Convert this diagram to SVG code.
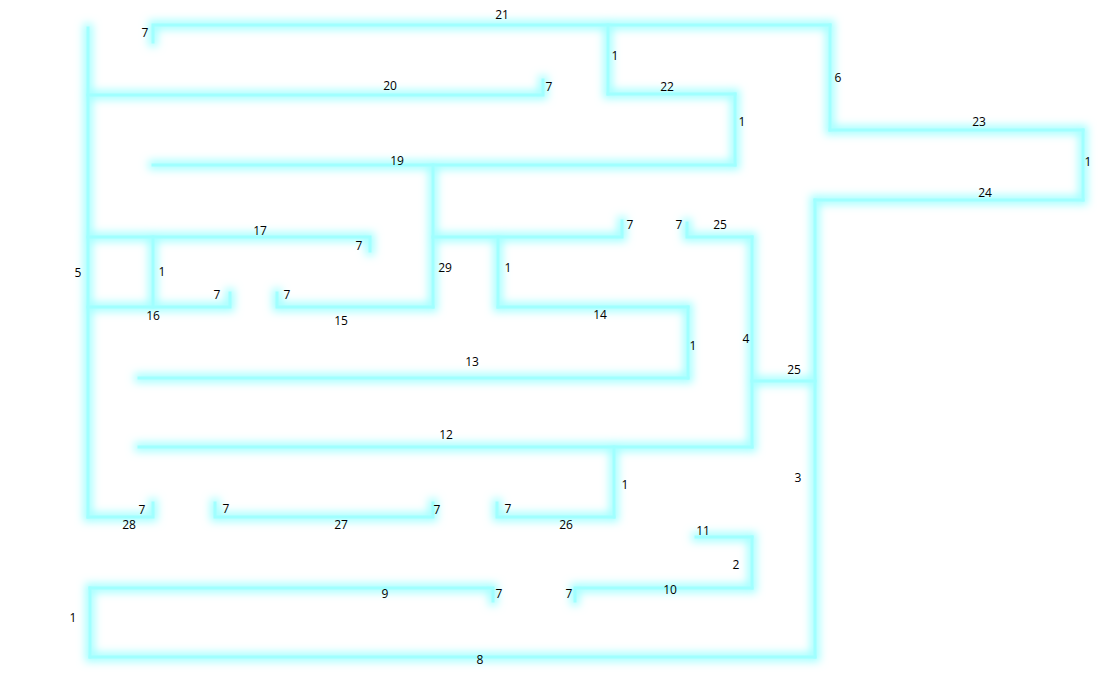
<svg xmlns="http://www.w3.org/2000/svg" width="1118" height="699" viewBox="0 0 1118 699">
<defs>
<filter id="glow" x="-20%" y="-20%" width="140%" height="140%">
<feMorphology in="SourceGraphic" operator="dilate" radius="2.5" result="d"/>
<feGaussianBlur in="d" stdDeviation="4.5" result="b"/>
<feMerge><feMergeNode in="b"/><feMergeNode in="SourceGraphic"/></feMerge>
</filter>
</defs>
<style>
.seg path{fill:none;stroke:#a0ffff;stroke-width:3;stroke-linecap:square;stroke-linejoin:miter}
text{font-family:"Open Sans","Liberation Sans",sans-serif;font-size:12px;fill:#000;text-anchor:middle}
</style>
<rect width="1118" height="699" fill="#fff"/>
<g id="connectors" class="seg" filter="url(#glow)">
<g id="seg21"><path d="M153,42 V25 H830"/></g>
<g id="seg1a"><path d="M608,25 V94"/></g>
<g id="seg22"><path d="M608,94 H735"/></g>
<g id="seg1b"><path d="M735,94 V165"/></g>
<g id="seg19"><path d="M153,165 H735"/></g>
<g id="seg20"><path d="M88,95 H543 V80"/></g>
<g id="seg6"><path d="M830,25 V130"/></g>
<g id="seg23"><path d="M830,130 H1083"/></g>
<g id="seg1c"><path d="M1083,130 V200"/></g>
<g id="seg24"><path d="M1083,200 H815"/></g>
<g id="seg3"><path d="M815,200 V657"/></g>
<g id="seg8"><path d="M815,657 H90"/></g>
<g id="seg1d"><path d="M90,657 V588"/></g>
<g id="seg9"><path d="M90,588 H493 V601"/></g>
<g id="seg10"><path d="M575,601 V588 H752"/></g>
<g id="seg2"><path d="M752,588 V537"/></g>
<g id="seg11"><path d="M752,537 H696"/></g>
<g id="seg25b"><path d="M752,381 H815"/></g>
<g id="seg4"><path d="M752,237 V447"/></g>
<g id="seg25a"><path d="M687,223 V237 H752"/></g>
<g id="seg12"><path d="M139,447 H752"/></g>
<g id="seg1e"><path d="M614,447 V517"/></g>
<g id="seg26"><path d="M614,517 H497 V503"/></g>
<g id="seg27"><path d="M215,503 V517 H433 V503"/></g>
<g id="seg28"><path d="M88,517 H153 V503"/></g>
<g id="seg5"><path d="M88,28 V517"/></g>
<g id="seg13"><path d="M139,378 H688"/></g>
<g id="seg1f"><path d="M688,378 V307"/></g>
<g id="seg14"><path d="M688,307 H498"/></g>
<g id="seg1g"><path d="M498,307 V237"/></g>
<g id="seg18"><path d="M433,237 H622 V221"/></g>
<g id="seg29"><path d="M433,165 V307"/></g>
<g id="seg15"><path d="M433,307 H277 V293"/></g>
<g id="seg17"><path d="M88,237 H370 V251"/></g>
<g id="seg1h"><path d="M153,237 V307"/></g>
<g id="seg16"><path d="M88,307 H230 V293"/></g>
</g>
<g id="labels">
<text x="502" y="19">21</text>
<text x="145" y="37">7</text>
<text x="615" y="60">1</text>
<text x="390" y="90">20</text>
<text x="549" y="91">7</text>
<text x="667" y="91">22</text>
<text x="838" y="82">6</text>
<text x="742" y="126">1</text>
<text x="979" y="126">23</text>
<text x="397" y="165">19</text>
<text x="1088" y="166">1</text>
<text x="985" y="197">24</text>
<text x="260" y="235">17</text>
<text x="630" y="229">7</text>
<text x="679" y="229">7</text>
<text x="720" y="229">25</text>
<text x="359" y="250">7</text>
<text x="445" y="272">29</text>
<text x="508" y="272">1</text>
<text x="78" y="277">5</text>
<text x="162" y="276">1</text>
<text x="217" y="299">7</text>
<text x="287" y="299">7</text>
<text x="153" y="320">16</text>
<text x="341" y="325">15</text>
<text x="600" y="319">14</text>
<text x="693" y="350">1</text>
<text x="746" y="343">4</text>
<text x="472" y="366">13</text>
<text x="794" y="374">25</text>
<text x="446" y="439">12</text>
<text x="798" y="482">3</text>
<text x="625" y="489">1</text>
<text x="142" y="514">7</text>
<text x="226" y="513">7</text>
<text x="437" y="514">7</text>
<text x="508" y="513">7</text>
<text x="129" y="529">28</text>
<text x="341" y="529">27</text>
<text x="566" y="529">26</text>
<text x="703" y="535">11</text>
<text x="736" y="569">2</text>
<text x="385" y="598">9</text>
<text x="499" y="598">7</text>
<text x="569" y="598">7</text>
<text x="670" y="594">10</text>
<text x="73" y="622">1</text>
<text x="480" y="664">8</text>
</g>
</svg>
